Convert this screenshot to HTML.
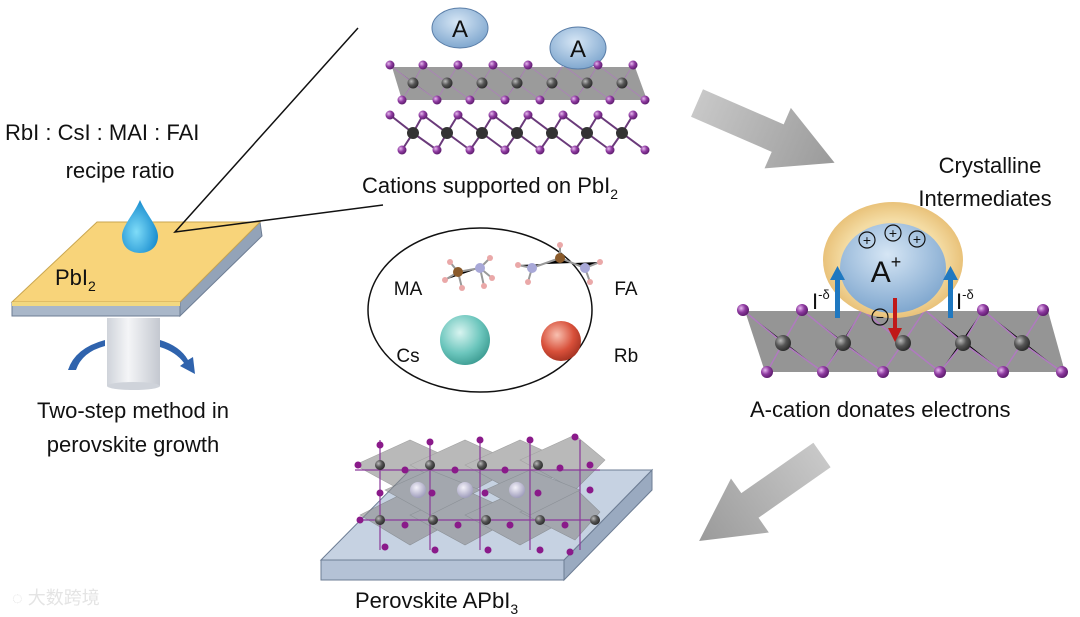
<!DOCTYPE html>
<html><head><meta charset="utf-8"><style>
html,body{margin:0;padding:0;background:#fff}
svg{display:block}
text{font-family:"Liberation Sans",Arial,sans-serif;fill:#111}
</style></head><body>
<svg width="1080" height="617" viewBox="0 0 1080 617" xmlns="http://www.w3.org/2000/svg">
<defs>
<radialGradient id="ga" cx="0.45" cy="0.35" r="0.7"><stop offset="0" stop-color="#d6e6f5"/><stop offset="1" stop-color="#7aa3cc"/></radialGradient>
<radialGradient id="gi" cx="0.35" cy="0.35" r="0.7"><stop offset="0" stop-color="#e6b8ef"/><stop offset="0.5" stop-color="#8e3aa0"/><stop offset="1" stop-color="#5a1a6a"/></radialGradient>
<radialGradient id="gp" cx="0.35" cy="0.35" r="0.7"><stop offset="0" stop-color="#bbb"/><stop offset="0.5" stop-color="#555"/><stop offset="1" stop-color="#2a2a2a"/></radialGradient>
<radialGradient id="gcs" cx="0.4" cy="0.35" r="0.7"><stop offset="0" stop-color="#d8f4f0"/><stop offset="0.6" stop-color="#6cc6bd"/><stop offset="1" stop-color="#3a9a90"/></radialGradient>
<radialGradient id="grb" cx="0.4" cy="0.35" r="0.7"><stop offset="0" stop-color="#f8c0b0"/><stop offset="0.6" stop-color="#d8503a"/><stop offset="1" stop-color="#a03020"/></radialGradient>
<radialGradient id="gy" cx="0.5" cy="0.5" r="0.5"><stop offset="0.7" stop-color="#f4dca4"/><stop offset="1" stop-color="#e9c27a"/></radialGradient>
<radialGradient id="gd" cx="0.4" cy="0.6" r="0.6"><stop offset="0" stop-color="#7fdcf8"/><stop offset="1" stop-color="#1a8ed0"/></radialGradient>
<radialGradient id="gl" cx="0.4" cy="0.35" r="0.7"><stop offset="0" stop-color="#f4f2fa"/><stop offset="1" stop-color="#9a98b8"/></radialGradient>
<linearGradient id="gc" x1="0" x2="1"><stop offset="0" stop-color="#cfd3da"/><stop offset="0.4" stop-color="#f4f5f7"/><stop offset="1" stop-color="#c4c8d0"/></linearGradient>
<linearGradient id="garr" x1="0" x2="1"><stop offset="0" stop-color="#c8c8c8"/><stop offset="1" stop-color="#9a9a9a"/></linearGradient>
<symbol id="arr" overflow="visible"><polygon points="0,-15 88,-15 88,-33 150,0 88,33 88,15 0,15" fill="url(#garr)"/></symbol>
</defs>

<text x="5" y="140" font-size="22">RbI : CsI : MAI : FAI</text>
<text x="120" y="178" font-size="22" text-anchor="middle">recipe ratio</text>

<polygon points="12,302 180,302 180,316 12,316" fill="#a9b7c9" stroke="#6d7d94" stroke-width="1"/>
<polygon points="180,302 260,222 262,236 180,316" fill="#93a3b8" stroke="#6d7d94" stroke-width="1"/>
<polygon points="12,302 97,222 260,222 180,302" fill="#f8d47a" stroke="#c9a650" stroke-width="1"/>
<polygon points="12,302 180,302 180,306 12,306" fill="#f2d880"/>
<text x="55" y="285" font-size="22">PbI<tspan font-size="14" dy="6">2</tspan></text>
<path d="M140,200 C146,214 158,226 158,236 C158,247 150,253 140,253 C130,253 122,247 122,236 C122,226 134,214 140,200 Z" fill="url(#gd)"/>
<polyline points="358,28 175,232 383,205" fill="none" stroke="#111" stroke-width="1.5"/>
<rect x="107" y="318" width="53" height="68" fill="url(#gc)"/>
<ellipse cx="133.5" cy="386" rx="26.5" ry="4" fill="#cfd3da"/>
<path d="M68,370 Q75,348 105,340 L105,346 Q82,352 76,370 Z" fill="#2f63ad"/>
<path d="M160,340 Q180,346 188,360 L193,357 L195,374 L180,366 L184,363 Q176,352 160,347 Z" fill="#2f63ad"/>
<text x="133" y="418" font-size="22" text-anchor="middle">Two-step method in</text>
<text x="133" y="452" font-size="22" text-anchor="middle">perovskite growth</text>

<ellipse cx="460" cy="28" rx="28" ry="20" fill="url(#ga)" stroke="#5a7ea8" stroke-width="1"/>
<text x="460" y="37" font-size="24" text-anchor="middle">A</text>
<polygon points="392,67 635,67 647,100 402,100" fill="#8a8a8a" opacity="0.85"/>
<g stroke="#b07ac0" stroke-width="1" opacity="0.7">
<path d="M390,65 L413,83 L437,100 M423,65 L413,83 L402,100 M423,65 L447,83 L470,100 M458,65 L447,83 L437,100 M458,65 L482,83 L505,100 M493,65 L482,83 L470,100 M493,65 L517,83 L540,100 M528,65 L517,83 L505,100 M528,65 L552,83 L575,100 M563,65 L552,83 L540,100 M563,65 L587,83 L610,100 M598,65 L587,83 L575,100 M598,65 L622,83 L645,100 M633,65 L622,83 L610,100"/>
</g>
<ellipse cx="578" cy="48" rx="28" ry="21" fill="url(#ga)" stroke="#5a7ea8" stroke-width="1"/>
<text x="578" y="57" font-size="24" text-anchor="middle">A</text>
<g fill="url(#gi)">
<circle cx="390" cy="65" r="4.5"/><circle cx="423" cy="65" r="4.5"/><circle cx="458" cy="65" r="4.5"/><circle cx="493" cy="65" r="4.5"/><circle cx="528" cy="65" r="4.5"/><circle cx="598" cy="65" r="4.5"/><circle cx="633" cy="65" r="4.5"/>
<circle cx="402" cy="100" r="4.5"/><circle cx="437" cy="100" r="4.5"/><circle cx="470" cy="100" r="4.5"/><circle cx="505" cy="100" r="4.5"/><circle cx="540" cy="100" r="4.5"/><circle cx="575" cy="100" r="4.5"/><circle cx="610" cy="100" r="4.5"/><circle cx="645" cy="100" r="4.5"/>
</g>
<g fill="url(#gp)"><circle cx="413" cy="83" r="5.5"/><circle cx="447" cy="83" r="5.5"/><circle cx="482" cy="83" r="5.5"/><circle cx="517" cy="83" r="5.5"/><circle cx="552" cy="83" r="5.5"/><circle cx="587" cy="83" r="5.5"/><circle cx="622" cy="83" r="5.5"/></g>
<g stroke="#6a3a7a" stroke-width="2">
<path d="M390,115 L413,133 L437,150 M423,115 L413,133 L402,150 M423,115 L447,133 L470,150 M458,115 L447,133 L437,150 M458,115 L482,133 L505,150 M493,115 L482,133 L470,150 M493,115 L517,133 L540,150 M528,115 L517,133 L505,150 M528,115 L552,133 L575,150 M563,115 L552,133 L540,150 M563,115 L587,133 L610,150 M598,115 L587,133 L575,150 M598,115 L622,133 L645,150 M633,115 L622,133 L610,150"/>
</g>
<g fill="url(#gi)">
<circle cx="390" cy="115" r="4.5"/><circle cx="423" cy="115" r="4.5"/><circle cx="458" cy="115" r="4.5"/><circle cx="493" cy="115" r="4.5"/><circle cx="528" cy="115" r="4.5"/><circle cx="563" cy="115" r="4.5"/><circle cx="598" cy="115" r="4.5"/><circle cx="633" cy="115" r="4.5"/>
<circle cx="402" cy="150" r="4.5"/><circle cx="437" cy="150" r="4.5"/><circle cx="470" cy="150" r="4.5"/><circle cx="505" cy="150" r="4.5"/><circle cx="540" cy="150" r="4.5"/><circle cx="575" cy="150" r="4.5"/><circle cx="610" cy="150" r="4.5"/><circle cx="645" cy="150" r="4.5"/>
</g>
<g fill="#333"><circle cx="413" cy="133" r="6"/><circle cx="447" cy="133" r="6"/><circle cx="482" cy="133" r="6"/><circle cx="517" cy="133" r="6"/><circle cx="552" cy="133" r="6"/><circle cx="587" cy="133" r="6"/><circle cx="622" cy="133" r="6"/></g>
<text x="362" y="193" font-size="22">Cations supported on PbI<tspan font-size="14" dy="6">2</tspan></text>

<ellipse cx="480" cy="310" rx="112" ry="82" fill="#fff" stroke="#111" stroke-width="1.5"/>
<text x="408" y="295" font-size="19" text-anchor="middle">MA</text>
<text x="626" y="295" font-size="19" text-anchor="middle">FA</text>
<text x="408" y="362" font-size="19" text-anchor="middle">Cs</text>
<text x="626" y="362" font-size="19" text-anchor="middle">Rb</text>
<g stroke="#999" stroke-width="2">
<path d="M445,280 L458,272 L480,268 M458,272 L450,262 M458,272 L462,288 M480,268 L490,258 M480,268 L492,278 M480,268 L484,286"/>
<path d="M518,265 L532,268 L560,258 L585,268 L600,262 M560,258 L560,245 M532,268 L528,282 M585,268 L590,282"/>
</g>
<g>
<circle cx="458" cy="272" r="5" fill="#8a5a2a"/><circle cx="480" cy="268" r="5" fill="#a8a8d8"/>
<circle cx="532" cy="268" r="5" fill="#a8a8d8"/><circle cx="560" cy="258" r="5" fill="#8a5a2a"/><circle cx="585" cy="268" r="5" fill="#a8a8d8"/>
<g fill="#eaa8a8"><circle cx="445" cy="280" r="3"/><circle cx="450" cy="262" r="3"/><circle cx="462" cy="288" r="3"/><circle cx="490" cy="258" r="3"/><circle cx="492" cy="278" r="3"/><circle cx="484" cy="286" r="3"/><circle cx="518" cy="265" r="3"/><circle cx="560" cy="245" r="3"/><circle cx="528" cy="282" r="3"/><circle cx="600" cy="262" r="3"/><circle cx="590" cy="282" r="3"/></g>
</g>
<circle cx="465" cy="340" r="25" fill="url(#gcs)"/>
<circle cx="561" cy="341" r="20" fill="url(#grb)"/>

<use href="#arr" transform="translate(697,103) rotate(23.5)"/>
<use href="#arr" transform="translate(822,455) rotate(145)"/>

<text x="990" y="173" font-size="22" text-anchor="middle">Crystalline</text>
<text x="985" y="206" font-size="22" text-anchor="middle">Intermediates</text>
<polygon points="745,311 1048,311 1065,372 765,372" fill="#8a8a8a" opacity="0.9"/>
<g stroke="#b07ac0" stroke-width="1.5">
<path d="M743,310 L783,343 L823,372 M802,310 L783,343 L767,372 M802,310 L843,343 L883,372 M862,310 L843,343 L823,372 M862,310 L903,343 L940,372 M925,310 L903,343 L883,372 M925,310 L963,343 L1003,372 M983,310 L963,343 L940,372 M983,310 L1022,343 L1062,372 M1043,310 L1022,343 L1003,372"/>
</g>
<g fill="url(#gp)"><circle cx="783" cy="343" r="8"/><circle cx="843" cy="343" r="8"/><circle cx="903" cy="343" r="8"/><circle cx="963" cy="343" r="8"/><circle cx="1022" cy="343" r="8"/></g>
<g fill="url(#gi)"><circle cx="767" cy="372" r="6"/><circle cx="823" cy="372" r="6"/><circle cx="883" cy="372" r="6"/><circle cx="940" cy="372" r="6"/><circle cx="1003" cy="372" r="6"/><circle cx="1062" cy="372" r="6"/>
<circle cx="743" cy="310" r="6"/><circle cx="802" cy="310" r="6"/><circle cx="983" cy="310" r="6"/><circle cx="1043" cy="310" r="6"/></g>
<ellipse cx="893" cy="260" rx="70" ry="58" fill="url(#gy)"/>
<ellipse cx="893" cy="268" rx="53" ry="45" fill="url(#ga)"/>
<g fill="none" stroke="#111" stroke-width="1.2"><circle cx="867" cy="240" r="8"/><circle cx="893" cy="233" r="8"/><circle cx="917" cy="239" r="8"/><circle cx="880" cy="317" r="8"/></g>
<g font-size="14" text-anchor="middle"><text x="867" y="245">+</text><text x="893" y="238">+</text><text x="917" y="244">+</text><text x="880" y="322">−</text></g>
<text x="886" y="282" font-size="30" text-anchor="middle">A<tspan font-size="18" dy="-14">+</tspan></text>
<g fill="#1f78c0"><rect x="835" y="278" width="5" height="40"/><polygon points="830,280 845,280 837.5,266"/><rect x="948" y="278" width="5" height="40"/><polygon points="943,280 958,280 950.5,266"/></g>
<g fill="#c01818"><rect x="893" y="298" width="4" height="32"/><polygon points="888,328 902,328 895,342"/></g>
<text x="812" y="309" font-size="22">I<tspan font-size="13" dy="-10">-δ</tspan></text>
<text x="956" y="309" font-size="22">I<tspan font-size="13" dy="-10">-δ</tspan></text>
<text x="750" y="417" font-size="22">A-cation donates electrons</text>

<polygon points="321,560 564,560 564,580 321,580" fill="#b4c2d6" stroke="#6d7d94"/>
<polygon points="564,560 652,470 652,490 564,580" fill="#9aaac0" stroke="#6d7d94"/>
<polygon points="321,560 410,470 652,470 564,560" fill="#c6d2e2" stroke="#6d7d94"/>
<g fill="#8c8c8c" opacity="0.6" stroke="#666" stroke-width="0.6">
<polygon points="355,465 410,440 465,465 410,495"/><polygon points="410,465 465,440 520,465 465,495"/><polygon points="465,465 520,440 575,465 520,495"/><polygon points="520,460 575,435 605,460 575,490"/>
<polygon points="360,515 410,490 465,515 410,545"/><polygon points="410,515 465,490 520,515 465,545"/><polygon points="465,515 520,490 575,515 520,545"/><polygon points="520,512 575,488 600,512 575,540"/>
<polygon points="385,490 430,470 480,490 430,515"/><polygon points="485,490 530,470 580,490 530,515"/>
</g>
<g stroke="#8a3a9a" stroke-width="1.2">
<path d="M355,470 L600,470 M360,520 L600,520 M380,440 L380,550 M430,440 L430,550 M480,440 L480,550 M530,440 L530,550 M580,440 L580,550"/>
</g>
<g fill="url(#gl)"><circle cx="418" cy="490" r="8"/><circle cx="465" cy="490" r="8"/><circle cx="517" cy="490" r="8"/></g>
<g fill="url(#gp)"><circle cx="380" cy="465" r="5"/><circle cx="430" cy="465" r="5"/><circle cx="482" cy="465" r="5"/><circle cx="538" cy="465" r="5"/><circle cx="380" cy="520" r="5"/><circle cx="433" cy="520" r="5"/><circle cx="486" cy="520" r="5"/><circle cx="540" cy="520" r="5"/><circle cx="595" cy="520" r="5"/></g>
<g fill="#8a1a8a">
<circle cx="358" cy="465" r="3.5"/><circle cx="405" cy="470" r="3.5"/><circle cx="455" cy="470" r="3.5"/><circle cx="505" cy="470" r="3.5"/><circle cx="560" cy="468" r="3.5"/><circle cx="590" cy="465" r="3.5"/>
<circle cx="380" cy="445" r="3.5"/><circle cx="430" cy="442" r="3.5"/><circle cx="480" cy="440" r="3.5"/><circle cx="530" cy="440" r="3.5"/><circle cx="575" cy="437" r="3.5"/>
<circle cx="380" cy="493" r="3.5"/><circle cx="432" cy="493" r="3.5"/><circle cx="485" cy="493" r="3.5"/><circle cx="538" cy="493" r="3.5"/><circle cx="590" cy="490" r="3.5"/>
<circle cx="360" cy="520" r="3.5"/><circle cx="405" cy="525" r="3.5"/><circle cx="458" cy="525" r="3.5"/><circle cx="510" cy="525" r="3.5"/><circle cx="565" cy="525" r="3.5"/>
<circle cx="385" cy="547" r="3.5"/><circle cx="435" cy="550" r="3.5"/><circle cx="488" cy="550" r="3.5"/><circle cx="540" cy="550" r="3.5"/><circle cx="570" cy="552" r="3.5"/>
</g>
<text x="355" y="608" font-size="22">Perovskite APbI<tspan font-size="14" dy="6">3</tspan></text>

<text x="12" y="604" font-size="18" style="fill:#e4e4e4">◌ 大数跨境</text>
</svg>
</body></html>
